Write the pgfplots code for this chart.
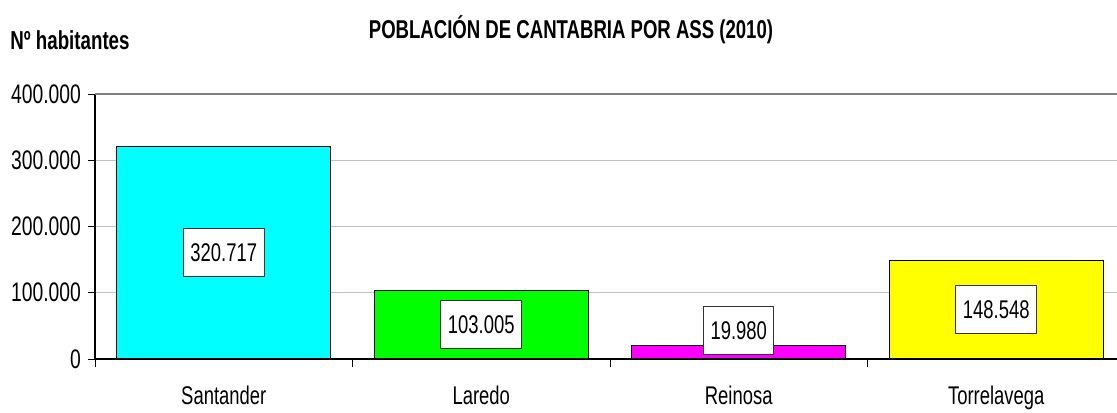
\documentclass[border=0pt]{standalone}
\usepackage{fontspec}
\setmainfont{Liberation Sans}[FakeStretch=0.72]
\usepackage{pgfplots}
\pgfplotsset{compat=1.18}
\definecolor{gridgray}{RGB}{192,192,192}
\definecolor{topgray}{RGB}{128,128,128}
\begin{document}
\begin{tikzpicture}
\begin{axis}[
  at={(47.5pt,26.5pt)}, anchor=south west,
  scale only axis, width=511pt, height=132.5pt,
  xmin=-0.5, xmax=3.469, ymin=0, ymax=400000,
  axis lines=left, axis line style={-, black, line width=0.6pt},
  xtick={0,1,2,3},
  xticklabels={Santander,Laredo,Reinosa,Torrelavega},
  minor xtick={-0.5,0.5,1.5,2.5},
  every major x tick/.style={draw=none},
  major tick length=3.5pt, minor tick length=4pt,
  tick align=outside, tick style={black, line width=0.5pt},
  ytick={0,100000,200000,300000},
  extra y ticks={400000},
  extra y tick style={grid style={topgray, line width=0.6pt}},
  ymajorgrids, grid style={gridgray, line width=0.5pt},
  scaled y ticks=false,
  yticklabel style={/pgf/number format/fixed, /pgf/number format/precision=0, /pgf/number format/1000 sep={.}, /pgf/number format/assume math mode=true, font=\fontsize{13.4}{15}\selectfont},
  extra y tick labels={400.000},
  xticklabel style={yshift=-6.5pt, font=\fontsize{12.8}{15}\selectfont},
  clip=false,
]
\addplot[ybar, bar shift=0pt, bar width=0.83, fill={rgb,255:red,0;green,255;blue,255}, draw=black, line width=0.6pt] coordinates {(0,320717)};
\addplot[ybar, bar shift=0pt, bar width=0.83, fill={rgb,255:red,0;green,255;blue,0}, draw=black, line width=0.6pt] coordinates {(1,103005)};
\addplot[ybar, bar shift=0pt, bar width=0.83, fill={rgb,255:red,255;green,0;blue,255}, draw=black, line width=0.6pt] coordinates {(2,19980)};
\addplot[ybar, bar shift=0pt, bar width=0.83, fill={rgb,255:red,255;green,255;blue,0}, draw=black, line width=0.6pt] coordinates {(3,148548)};
\addplot[draw=none, mark=none, nodes near coords, point meta=explicit symbolic,
  every node near coord/.append style={anchor=center, fill=white, draw=black!80, line width=0.5pt,
    font=\fontsize{12.8}{15}\selectfont, inner xsep=3.5pt, minimum height=24pt}]
  table[meta=label] {
x y label
0 161000 320.717
1 52000 103.005
2 42300 19.980
3 75000 148.548
};
\end{axis}
\node[font=\bfseries\fontsize{12.9}{15}\selectfont] at (285.5pt,191pt) {POBLACIÓN DE CANTABRIA POR ASS (2010)};
\node[font=\bfseries\fontsize{13}{15}\selectfont, anchor=west, inner sep=0pt] at (5pt,186pt) {Nº habitantes};
\pgfresetboundingbox
\path[use as bounding box] (0,0) rectangle (558.5pt,206pt);
\end{tikzpicture}
\end{document}
